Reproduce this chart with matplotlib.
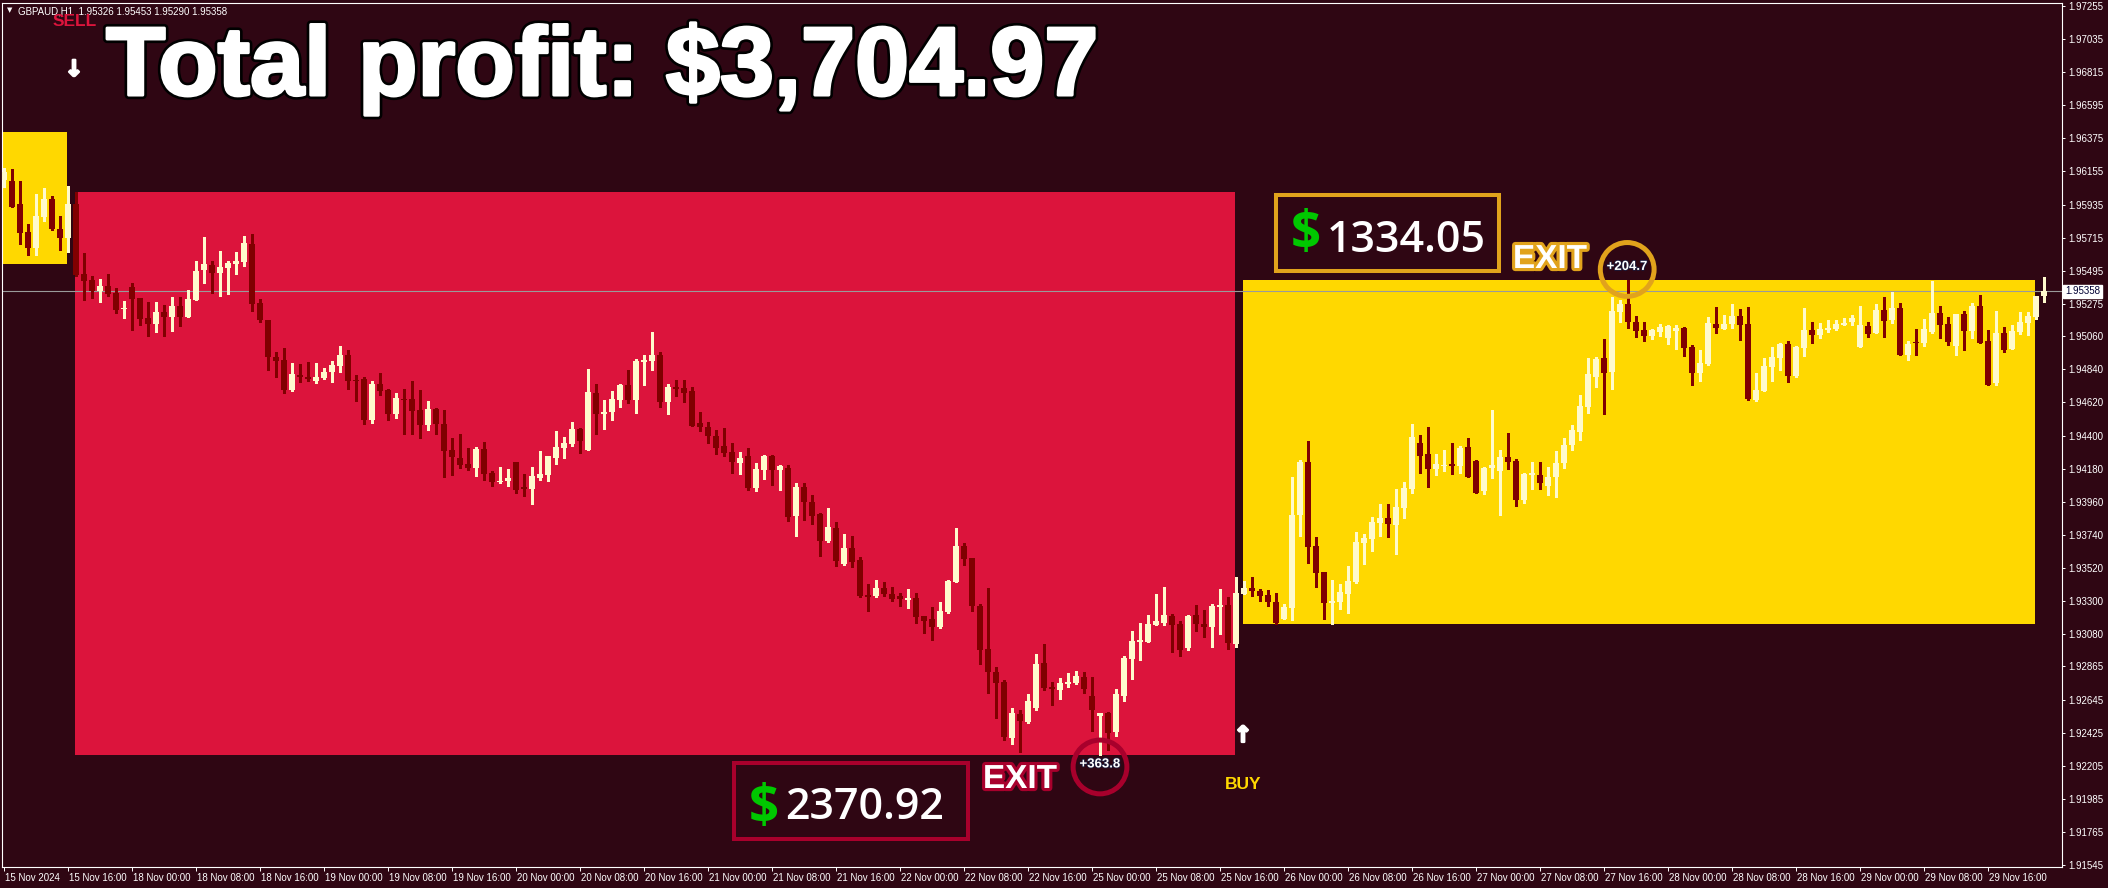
import matplotlib
matplotlib.use("Agg")
import matplotlib.pyplot as plt
import matplotlib.patheffects as pe
from matplotlib.patches import Rectangle
from matplotlib.transforms import ScaledTranslation
import pandas as pd

W, H, DPI = 2108, 888, 100

symbol_line = "GBPAUD,H1  1.95326 1.95453 1.95290 1.95358"
title_text = "Total profit: $3,704.97"
sell_profit_text = "2370.92"
buy_profit_text = "1334.05"
sell_exit_pips = "+363.8"
buy_exit_pips = "+204.7"
last_price = 1.95358

y_tick_values = [1.97255, 1.97035, 1.96815, 1.96595, 1.96375, 1.96155, 1.95935, 1.95715,
                 1.95495, 1.95275, 1.95060, 1.94840, 1.94620, 1.94400, 1.94180, 1.93960,
                 1.93740, 1.93520, 1.93300, 1.93080, 1.92865, 1.92645, 1.92425, 1.92205,
                 1.91985, 1.91765, 1.91545]

trading_days = ["2024-11-18", "2024-11-19", "2024-11-20", "2024-11-21", "2024-11-22",
                "2024-11-25", "2024-11-26", "2024-11-27", "2024-11-28", "2024-11-29"]

opens = [
1.96098, 1.96092, 1.95939, 1.95753, 1.95646, 1.95853, 1.95972, 1.95773, 1.95713, 1.95939,
1.95474, 1.95434, 1.95361, 1.95394, 1.95347, 1.95241, 1.95387, 1.95314, 1.95181, 1.95141,
1.95221, 1.95188, 1.95261, 1.95188, 1.95301, 1.95500, 1.95533, 1.95480, 1.95514, 1.95540,
1.95553, 1.95673, 1.95281, 1.95168, 1.94922, 1.94902, 1.94703, 1.94802, 1.94789, 1.94762,
1.94782, 1.94822, 1.94862, 1.94935, 1.94769, 1.94776, 1.94503, 1.94742, 1.94703, 1.94543,
1.94643, 1.94643, 1.94570, 1.94470, 1.94576, 1.94477, 1.94304, 1.94251, 1.94211, 1.94184,
1.94310, 1.94151, 1.94091, 1.94098, 1.94224, 1.94058, 1.94044, 1.94118, 1.94138, 1.94251,
1.94317, 1.94343, 1.94443, 1.94304, 1.94683, 1.94543, 1.94556, 1.94636, 1.94736, 1.94636,
1.94889, 1.94895, 1.94935, 1.94623, 1.94723, 1.94716, 1.94696, 1.94483, 1.94457, 1.94397,
1.94330, 1.94290, 1.94217, 1.94264, 1.94051, 1.94171, 1.94264, 1.94171, 1.94184, 1.93865,
1.94058, 1.93958, 1.93878, 1.93699, 1.93785, 1.93546, 1.93652, 1.93573, 1.93340, 1.93333,
1.93386, 1.93347, 1.93333, 1.93307, 1.93320, 1.93200, 1.93180, 1.93127, 1.93227, 1.93426,
1.93666, 1.93586, 1.93267, 1.92981, 1.92828, 1.92762, 1.92389, 1.92549, 1.92496, 1.92589,
1.92888, 1.92728, 1.92708, 1.92748, 1.92755, 1.92795, 1.92668, 1.92536, 1.92555, 1.92429,
1.92668, 1.92914, 1.93027, 1.93027, 1.93140, 1.93154, 1.93200, 1.93147, 1.92988, 1.93207,
1.93147, 1.93127, 1.93260, 1.93273, 1.93014, 1.93347, 1.93386, 1.93366, 1.93340, 1.93293,
1.93180, 1.93253, 1.93872, 1.94224, 1.93666, 1.93493, 1.93287, 1.93293, 1.93347, 1.93426,
1.93686, 1.93712, 1.93818, 1.93852, 1.93805, 1.93918, 1.94044, 1.94350, 1.94277, 1.94177,
1.94197, 1.94211, 1.94197, 1.94324, 1.94231, 1.94031, 1.94184, 1.94164, 1.94257, 1.94231,
1.93971, 1.94138, 1.94138, 1.94064, 1.94124, 1.94217, 1.94337, 1.94423, 1.94590, 1.94789,
1.94915, 1.94822, 1.95221, 1.95274, 1.95155, 1.95101, 1.95062, 1.95088, 1.95048, 1.95095,
1.95115, 1.94988, 1.94816, 1.94875, 1.95141, 1.95108, 1.95141, 1.95194, 1.95141, 1.94636,
1.94696, 1.94855, 1.94915, 1.95008, 1.94796, 1.94982, 1.95101, 1.95068, 1.95101, 1.95108,
1.95135, 1.95155, 1.94988, 1.95128, 1.95081, 1.95234, 1.95168, 1.95248, 1.94935, 1.95022,
1.95015, 1.95088, 1.95214, 1.95141, 1.94995, 1.95208, 1.95095, 1.95261, 1.95028, 1.94749,
1.95081, 1.94975, 1.95088, 1.95148, 1.95188, 1.95326,
]

highs = [
1.96178, 1.96172, 1.96092, 1.95806, 1.96005, 1.96045, 1.95992, 1.95859, 1.96059, 1.96019,
1.95613, 1.95460, 1.95440, 1.95474, 1.95381, 1.95294, 1.95414, 1.95314, 1.95288, 1.95288,
1.95268, 1.95321, 1.95321, 1.95367, 1.95560, 1.95720, 1.95560, 1.95627, 1.95560, 1.95620,
1.95726, 1.95740, 1.95307, 1.95168, 1.94955, 1.94982, 1.94882, 1.94875, 1.94889, 1.94882,
1.94849, 1.94895, 1.94995, 1.94968, 1.94802, 1.94789, 1.94762, 1.94816, 1.94709, 1.94683,
1.94709, 1.94762, 1.94703, 1.94629, 1.94583, 1.94570, 1.94383, 1.94410, 1.94317, 1.94324,
1.94357, 1.94164, 1.94191, 1.94177, 1.94224, 1.94144, 1.94191, 1.94297, 1.94264, 1.94430,
1.94390, 1.94490, 1.94450, 1.94842, 1.94742, 1.94636, 1.94696, 1.94742, 1.94836, 1.94909,
1.94935, 1.95088, 1.94955, 1.94742, 1.94769, 1.94769, 1.94723, 1.94556, 1.94490, 1.94437,
1.94450, 1.94350, 1.94290, 1.94317, 1.94217, 1.94270, 1.94270, 1.94204, 1.94204, 1.94084,
1.94084, 1.94005, 1.93885, 1.93918, 1.93825, 1.93745, 1.93732, 1.93592, 1.93413, 1.93440,
1.93426, 1.93393, 1.93353, 1.93380, 1.93353, 1.93200, 1.93260, 1.93293, 1.93440, 1.93785,
1.93686, 1.93586, 1.93280, 1.93386, 1.92861, 1.92775, 1.92589, 1.92575, 1.92682, 1.92948,
1.93014, 1.92762, 1.92788, 1.92821, 1.92835, 1.92828, 1.92795, 1.92555, 1.92562, 1.92715,
1.92934, 1.93101, 1.93154, 1.93207, 1.93347, 1.93393, 1.93214, 1.93167, 1.93207, 1.93273,
1.93240, 1.93280, 1.93380, 1.93327, 1.93460, 1.93433, 1.93460, 1.93380, 1.93373, 1.93353,
1.93280, 1.94124, 1.94237, 1.94363, 1.93725, 1.93493, 1.93440, 1.93413, 1.93533, 1.93759,
1.93745, 1.93858, 1.93945, 1.93945, 1.94044, 1.94091, 1.94477, 1.94403, 1.94457, 1.94277,
1.94304, 1.94350, 1.94330, 1.94383, 1.94237, 1.94191, 1.94570, 1.94304, 1.94417, 1.94244,
1.94151, 1.94224, 1.94224, 1.94191, 1.94297, 1.94383, 1.94470, 1.94670, 1.94915, 1.94922,
1.95042, 1.95321, 1.95301, 1.95434, 1.95194, 1.95155, 1.95108, 1.95141, 1.95135, 1.95135,
1.95121, 1.95002, 1.94968, 1.95188, 1.95254, 1.95201, 1.95274, 1.95241, 1.95254, 1.94816,
1.94915, 1.94988, 1.95015, 1.95028, 1.94995, 1.95248, 1.95155, 1.95148, 1.95168, 1.95168,
1.95181, 1.95201, 1.95261, 1.95155, 1.95274, 1.95321, 1.95354, 1.95281, 1.95028, 1.95108,
1.95175, 1.95427, 1.95261, 1.95188, 1.95208, 1.95228, 1.95281, 1.95334, 1.95101, 1.95228,
1.95121, 1.95135, 1.95221, 1.95221, 1.95327, 1.95453,
]

lows = [
1.96052, 1.95919, 1.95673, 1.95600, 1.95600, 1.95826, 1.95766, 1.95633, 1.95620, 1.95460,
1.95301, 1.95314, 1.95288, 1.95327, 1.95214, 1.95181, 1.95101, 1.95135, 1.95062, 1.95088,
1.95062, 1.95095, 1.95128, 1.95188, 1.95301, 1.95414, 1.95347, 1.95327, 1.95341, 1.95474,
1.95527, 1.95228, 1.95155, 1.94836, 1.94789, 1.94683, 1.94696, 1.94756, 1.94762, 1.94749,
1.94776, 1.94756, 1.94822, 1.94709, 1.94629, 1.94477, 1.94483, 1.94669, 1.94503, 1.94516,
1.94410, 1.94410, 1.94383, 1.94437, 1.94410, 1.94124, 1.94138, 1.94184, 1.94171, 1.94131,
1.94104, 1.94064, 1.94084, 1.94064, 1.94018, 1.93998, 1.93945, 1.94104, 1.94098, 1.94211,
1.94251, 1.94330, 1.94284, 1.94304, 1.94410, 1.94443, 1.94503, 1.94590, 1.94616, 1.94550,
1.94736, 1.94836, 1.94590, 1.94543, 1.94663, 1.94623, 1.94463, 1.94430, 1.94350, 1.94277,
1.94264, 1.94151, 1.94144, 1.94038, 1.94031, 1.94111, 1.94071, 1.94038, 1.93832, 1.93732,
1.93838, 1.93812, 1.93599, 1.93692, 1.93533, 1.93539, 1.93526, 1.93327, 1.93234, 1.93327,
1.93333, 1.93300, 1.93267, 1.93253, 1.93154, 1.93087, 1.93041, 1.93120, 1.93220, 1.93426,
1.93539, 1.93234, 1.92881, 1.92688, 1.92522, 1.92376, 1.92349, 1.92296, 1.92489, 1.92575,
1.92708, 1.92609, 1.92649, 1.92728, 1.92748, 1.92688, 1.92436, 1.92276, 1.92310, 1.92403,
1.92635, 1.92781, 1.92908, 1.93027, 1.93140, 1.93140, 1.92961, 1.92934, 1.92974, 1.93101,
1.93061, 1.92994, 1.93081, 1.92981, 1.92994, 1.93347, 1.93333, 1.93300, 1.93267, 1.93147,
1.93180, 1.93174, 1.93732, 1.93553, 1.93393, 1.93180, 1.93147, 1.93247, 1.93220, 1.93420,
1.93546, 1.93632, 1.93732, 1.93725, 1.93612, 1.93852, 1.94018, 1.94151, 1.94058, 1.94138,
1.94164, 1.94144, 1.94151, 1.94124, 1.94018, 1.94011, 1.94118, 1.93872, 1.94177, 1.93931,
1.93951, 1.94044, 1.94044, 1.94005, 1.93991, 1.94184, 1.94304, 1.94370, 1.94550, 1.94723,
1.94543, 1.94709, 1.95155, 1.95115, 1.95055, 1.95028, 1.95042, 1.95062, 1.95008, 1.94975,
1.94929, 1.94736, 1.94762, 1.94869, 1.95081, 1.95108, 1.95115, 1.95035, 1.94636, 1.94629,
1.94696, 1.94762, 1.94836, 1.94756, 1.94789, 1.94929, 1.95015, 1.95048, 1.95088, 1.95101,
1.95135, 1.95135, 1.94988, 1.95055, 1.95081, 1.95055, 1.95148, 1.94935, 1.94902, 1.94935,
1.94995, 1.95081, 1.95048, 1.95002, 1.94935, 1.94968, 1.95048, 1.95015, 1.94736, 1.94736,
1.94955, 1.94975, 1.95075, 1.95068, 1.95175, 1.95290,
]

closes = [
1.96152, 1.95919, 1.95746, 1.95646, 1.95859, 1.95972, 1.95773, 1.95713, 1.95939, 1.95467,
1.95427, 1.95361, 1.95394, 1.95341, 1.95234, 1.95248, 1.95307, 1.95175, 1.95141, 1.95221,
1.95188, 1.95261, 1.95188, 1.95307, 1.95494, 1.95540, 1.95480, 1.95520, 1.95547, 1.95560,
1.95680, 1.95274, 1.95168, 1.94922, 1.94895, 1.94703, 1.94809, 1.94789, 1.94776, 1.94789,
1.94822, 1.94869, 1.94935, 1.94762, 1.94762, 1.94503, 1.94742, 1.94696, 1.94543, 1.94649,
1.94636, 1.94563, 1.94470, 1.94576, 1.94477, 1.94297, 1.94257, 1.94204, 1.94184, 1.94310,
1.94144, 1.94091, 1.94098, 1.94118, 1.94038, 1.94044, 1.94131, 1.94144, 1.94264, 1.94324,
1.94350, 1.94443, 1.94363, 1.94689, 1.94543, 1.94556, 1.94643, 1.94736, 1.94636, 1.94895,
1.94902, 1.94935, 1.94623, 1.94723, 1.94709, 1.94683, 1.94463, 1.94457, 1.94397, 1.94317,
1.94284, 1.94224, 1.94251, 1.94051, 1.94177, 1.94264, 1.94171, 1.94197, 1.93858, 1.94058,
1.93958, 1.93865, 1.93699, 1.93792, 1.93566, 1.93652, 1.93559, 1.93333, 1.93327, 1.93386,
1.93347, 1.93313, 1.93313, 1.93320, 1.93194, 1.93167, 1.93127, 1.93234, 1.93433, 1.93666,
1.93579, 1.93267, 1.92974, 1.92828, 1.92755, 1.92396, 1.92555, 1.92502, 1.92635, 1.92881,
1.92722, 1.92715, 1.92755, 1.92762, 1.92801, 1.92715, 1.92575, 1.92555, 1.92423, 1.92682,
1.92921, 1.93034, 1.93041, 1.93147, 1.93167, 1.93207, 1.93140, 1.92974, 1.93200, 1.93147,
1.93127, 1.93267, 1.93273, 1.93021, 1.93353, 1.93386, 1.93366, 1.93333, 1.93293, 1.93154,
1.93260, 1.93872, 1.94224, 1.93659, 1.93486, 1.93287, 1.93300, 1.93360, 1.93433, 1.93692,
1.93719, 1.93825, 1.93852, 1.93812, 1.93925, 1.94051, 1.94390, 1.94264, 1.94177, 1.94211,
1.94204, 1.94197, 1.94317, 1.94124, 1.94018, 1.94184, 1.94204, 1.94257, 1.94224, 1.93971,
1.94144, 1.94151, 1.94084, 1.94124, 1.94217, 1.94337, 1.94437, 1.94596, 1.94809, 1.94909,
1.94816, 1.95228, 1.95274, 1.95155, 1.95095, 1.95062, 1.95101, 1.95121, 1.95128, 1.95115,
1.94982, 1.94816, 1.94882, 1.95148, 1.95115, 1.95141, 1.95194, 1.95135, 1.94643, 1.94703,
1.94862, 1.94922, 1.95008, 1.94796, 1.94988, 1.95101, 1.95068, 1.95108, 1.95115, 1.95141,
1.95148, 1.95181, 1.95135, 1.95075, 1.95234, 1.95161, 1.95248, 1.94935, 1.95008, 1.95015,
1.95108, 1.95214, 1.95135, 1.95022, 1.95208, 1.95095, 1.95261, 1.95015, 1.94736, 1.95081,
1.94968, 1.95095, 1.95155, 1.95194, 1.95327, 1.95358,
]

# trade zones: (first bar, last bar, top price, bottom price)
prior_zone = (-1.0, 7.85, 1.96418, 1.95540)
sell_zone = (8.9, 153.9, 1.96019, 1.92276)
buy_zone = (154.9, 253.9, 1.95434, 1.93147)
# exit markers: (bar, price)
sell_exit = (137.0, 1.92197)
buy_exit = (202.9, 1.95504)

# ---------------------------------------------------------------- style
BG = "#2f0613"
BULL = "#fffacd"
BEAR = "#800000"
RED_ZONE = "#dc143c"
GOLD = "#ffd800"
SELL_EDGE = "#a8002c"
BUY_EDGE = "#e1a31c"
plt.rcParams["font.family"] = ["Liberation Sans", "DejaVu Sans"]

times = list(pd.date_range("2024-11-15 08:00", "2024-11-15 23:00", freq="h"))
for d in trading_days:
    times += list(pd.date_range(d + " 00:00", periods=24, freq="h"))
xs = list(range(len(times)))

fig = plt.figure(figsize=(W / DPI, H / DPI), dpi=DPI, facecolor=BG)
ax = fig.add_axes([2 / W, 1 - 867 / H, 2060 / W, 864 / H])
ax.set_facecolor(BG)
ax.set_xlim(-0.25, 257.25)
ax.set_ylim(1.91532, 1.97275)


def fx(x):
    return x / W


def fy(y):
    return 1 - y / H


# zones
for (x0, x1, top, bot), col in [(prior_zone, GOLD), (sell_zone, RED_ZONE), (buy_zone, GOLD)]:
    ax.add_patch(Rectangle((x0, bot), x1 - x0, top - bot, facecolor=col, edgecolor="none", zorder=1))

ax.axhline(last_price, color="#9a9a9a", lw=0.8, zorder=2)

# candles
px_price = (1.97275 - 1.91532) / 864
colors = [BULL if c >= o else BEAR for o, c in zip(opens, closes)]
ax.vlines(xs, lows, highs, colors=colors, lw=0.75, zorder=3, antialiased=False)
bottoms = [min(o, c) for o, c in zip(opens, closes)]
heights = [max(abs(c - o), px_price) for o, c in zip(opens, closes)]
ax.bar(xs, heights, bottom=bottoms, width=0.64, color=colors, linewidth=0, zorder=4,
       antialiased=False)

# exit circles and pips
for (bx, by), col, txt in [(sell_exit, SELL_EDGE, sell_exit_pips), (buy_exit, BUY_EDGE, buy_exit_pips)]:
    ax.scatter([bx], [by], s=1500, facecolors="none", edgecolors=col, linewidths=3.6, zorder=5)
    ax.text(bx, by + 2.5 * px_price, txt, color="white", fontsize=9.5, fontweight="bold",
            ha="center", va="center", zorder=6,
            path_effects=[pe.withStroke(linewidth=1.2, foreground="#1a1a3a")])

# axes styling
for sp in ax.spines.values():
    sp.set_color("white")
    sp.set_linewidth(0.8)
ax.yaxis.tick_right()
ax.set_yticks(y_tick_values)
ax.set_yticklabels([f"{v:.5f}" for v in y_tick_values])
ax.tick_params(axis="y", direction="out", length=2.5, width=0.7, colors="white",
               labelsize=7, pad=1.8)

tick_pos, tick_lab = [], []
for i, t in enumerate(times):
    if t.hour % 8 == 0:
        tick_pos.append(i)
        tick_lab.append(t.strftime("%d %b %Y") if i == 0 else t.strftime("%d %b %H:%M"))
ax.set_xticks(tick_pos)
ax.set_xticklabels(tick_lab)
ax.tick_params(axis="x", direction="out", length=3, width=0.7, colors="white",
               labelsize=7, pad=1.5)
off = ScaledTranslation(1.0 / DPI, 0, fig.dpi_scale_trans)
for lbl in ax.get_xticklabels():
    lbl.set_ha("left")
    lbl.set_transform(lbl.get_transform() + off)

# current price label
ax.text(1.0 + 3 / 2060, last_price, f"{last_price:.5f}", transform=ax.get_yaxis_transform(),
        fontsize=7, color="#000033", ha="left", va="center", zorder=7, clip_on=False,
        bbox=dict(boxstyle="square,pad=0.18", fc="white", ec="white"))

# header
fig.text(fx(7), fy(10), "▼", fontsize=5, color="white", ha="left", va="center",
         family="DejaVu Sans")
fig.text(fx(18), fy(11), symbol_line, fontsize=7, color="white", ha="left", va="center")
fig.text(fx(75), fy(22), "SELL", fontsize=12.5, fontweight="bold", color=RED_ZONE,
         ha="center", va="center")
arrow_fx = [pe.withStroke(linewidth=1.6, foreground="white")]
fig.text(fx(74), fy(70), "↓", fontsize=16, fontweight="bold", color="white", ha="center",
         va="center", family="DejaVu Sans", path_effects=arrow_fx)
fig.text(fx(1243), fy(736), "↑", fontsize=16, fontweight="bold", color="white", ha="center",
         va="center", family="DejaVu Sans", path_effects=arrow_fx)
fig.text(fx(1243), fy(784), "BUY", fontsize=12.5, fontweight="bold", color=GOLD,
         ha="center", va="center")

# title
fig.text(fx(106), fy(95), title_text, fontsize=70, fontweight="bold", color="white",
         ha="left", va="baseline",
         path_effects=[pe.Stroke(linewidth=6.0, foreground="black"),
                       pe.Stroke(linewidth=2.2, foreground="white"), pe.Normal()])

# profit boxes
for (x0, y0, x1, y1), edge, dollar_xy, num_xy, txt in [
    ((734, 763, 968, 839), SELL_EDGE, (764, 823), (785, 819), sell_profit_text),
    ((1276, 195, 1499, 271), BUY_EDGE, (1306, 249), (1327, 252), buy_profit_text),
]:
    fig.add_artist(Rectangle((fx(x0), fy(y1)), (x1 - x0) / W, (y1 - y0) / H,
                             transform=fig.transFigure, facecolor=BG, edgecolor=edge,
                             linewidth=2.9, zorder=8))
    fig.text(fx(dollar_xy[0]), fy(dollar_xy[1]), "$", fontsize=38, fontweight="bold",
             color="#00c800", ha="center", va="baseline", family="Open Sans", zorder=9)
    fig.text(fx(num_xy[0]), fy(num_xy[1]), txt, fontsize=31, fontweight="semibold",
             color="white", ha="left", va="baseline", family="Open Sans", zorder=9)

# EXIT labels
for (cx, by), edge in [((1020, 788), SELL_EDGE), ((1550, 268), BUY_EDGE)]:
    fig.text(fx(cx), fy(by), "EXIT", fontsize=24, fontweight="bold", color="white",
             ha="center", va="baseline", zorder=9,
             path_effects=[pe.withStroke(linewidth=4.5, foreground=edge)])

fig.savefig("out.png", dpi=DPI, facecolor=BG)
